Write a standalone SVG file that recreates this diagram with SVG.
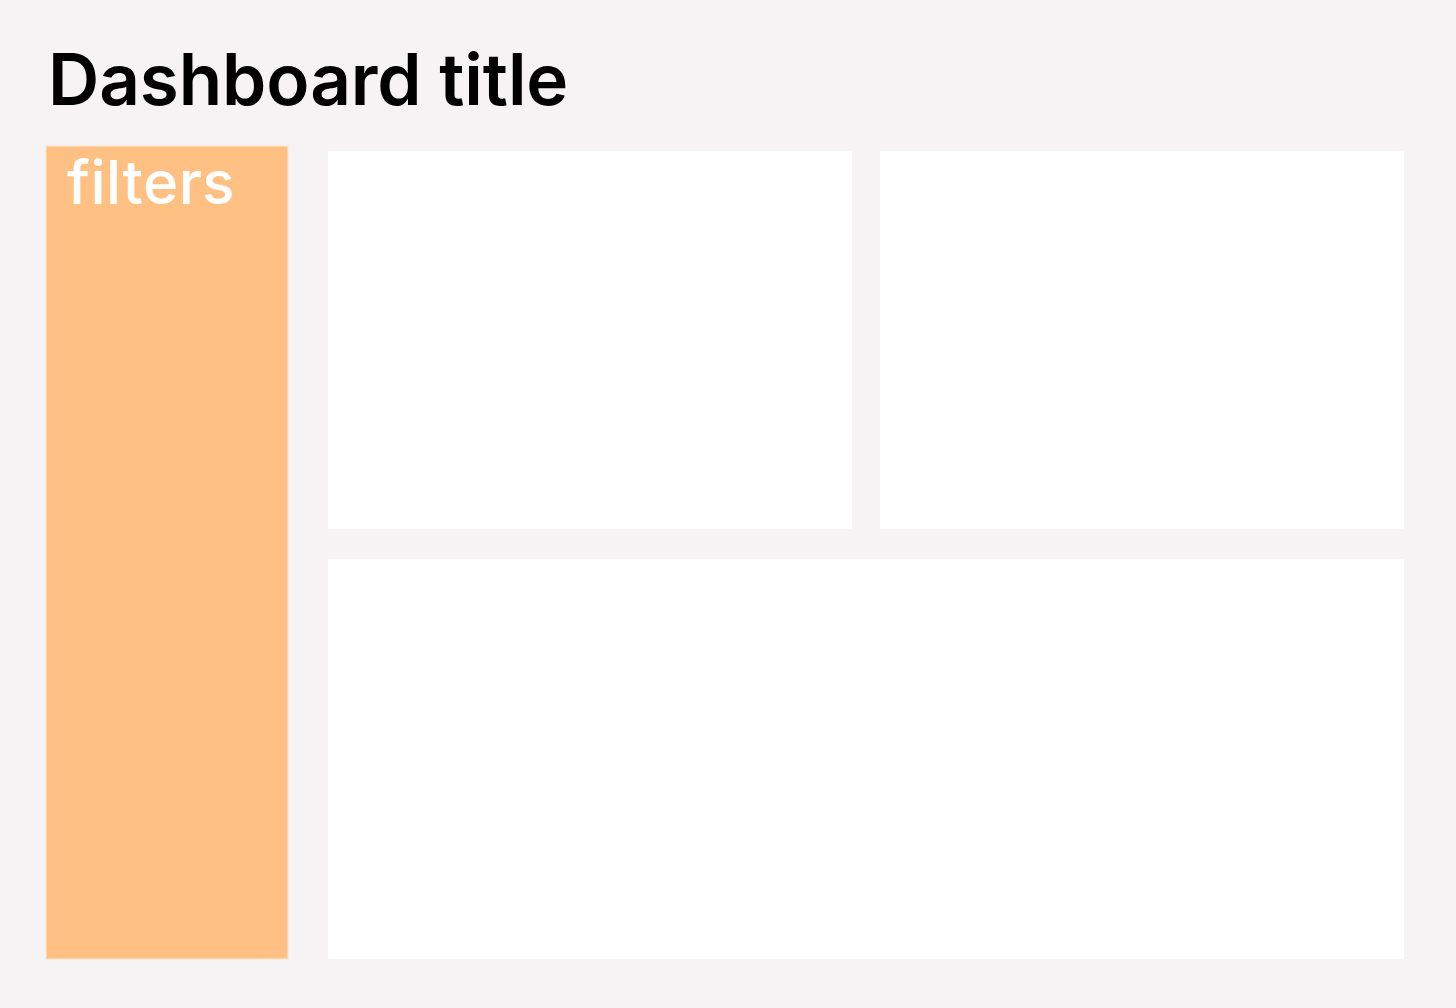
<svg xmlns="http://www.w3.org/2000/svg" width="1456" height="1008" viewBox="0 0 1456 1008">
<style>
.panel{fill:#FFFFFF}
.title{font-family:Inter,"Liberation Sans",sans-serif;font-weight:600;fill:#000000}
.flt{font-family:Inter,"Liberation Sans",sans-serif;font-weight:500;fill:#FFFFFF}
</style>
<rect x="0" y="0" width="1456" height="1008" fill="#F5F3F4"/>
<text class="title" x="48" y="105" font-size="71" letter-spacing="-0.1">Dashboard title</text>
<g id="filters">
<rect x="46" y="146" width="242" height="813" fill="#FFC183" stroke="#FFE6CC" stroke-width="1"/>
<text class="flt" x="67" y="204" font-size="60" letter-spacing="0.5">filters</text>
</g>
<g id="panel-top-left"><rect class="panel" x="328" y="151" width="524" height="378"/></g>
<g id="panel-top-right"><rect class="panel" x="880" y="151" width="524" height="378"/></g>
<g id="panel-bottom"><rect class="panel" x="328" y="559" width="1076" height="400"/></g>
<g id="connectors"/>
</svg>
